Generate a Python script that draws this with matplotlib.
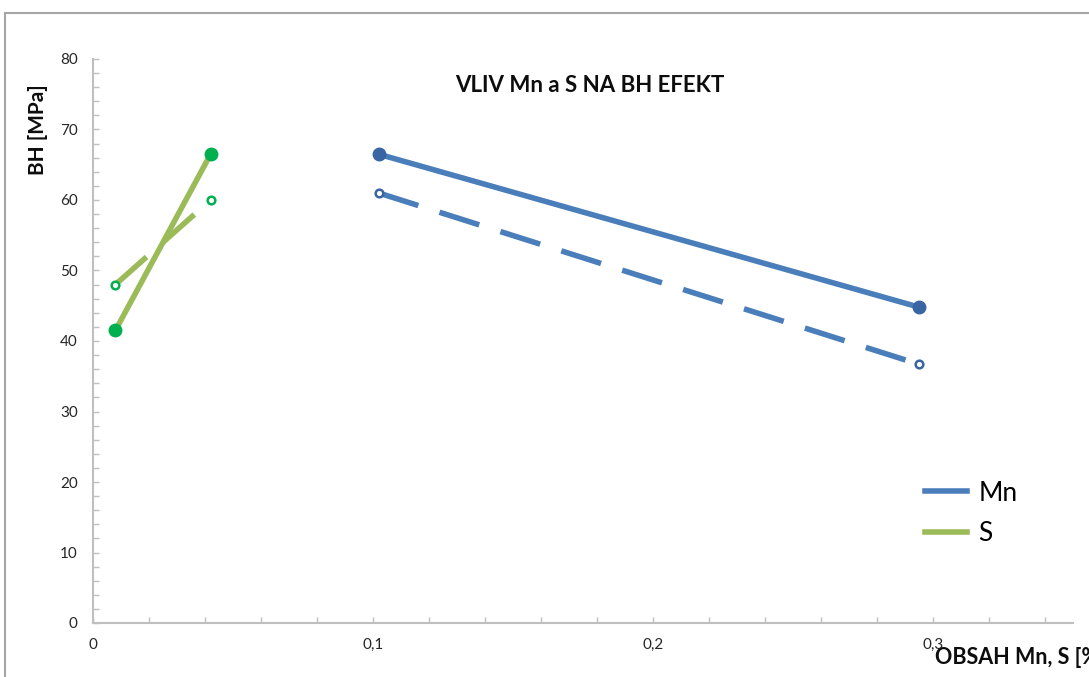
import matplotlib
matplotlib.use("Agg")
import matplotlib.pyplot as plt
from matplotlib.lines import Line2D
from matplotlib.ticker import MultipleLocator, FuncFormatter

plt.rcParams['font.family'] = ['Lato', 'DejaVu Sans']

# Content of Mn and S [%] and the BH effect [MPa]
mn_x = [0.102, 0.295]
mn_solid = [66.5, 44.8]
mn_dashed = [61.0, 36.7]

s_x = [0.008, 0.042]
s_solid = [41.5, 66.5]
s_dashed = [48.0, 60.0]

series_names = ["Mn", "S"]
title = "VLIV Mn a S NA BH EFEKT"
xlabel = "OBSAH Mn, S [%"
ylabel = "BH [MPa]"

MN_LINE = "#4A7EBB"
MN_MARK = "#3A65A3"
S_LINE = "#9BBB59"
S_MARK = "#00B050"

fig = plt.figure(figsize=(10.89, 6.77), dpi=100)
ax = fig.add_axes([93 / 1089, 1 - 623 / 677, 980 / 1089, 564 / 677])

lw = 4.0
dash = (7.5, 4)

# Solid lines with filled markers
ax.plot(mn_x, mn_solid, color=MN_LINE, lw=lw, solid_capstyle='butt', zorder=3)
ax.plot(mn_x, mn_solid, 'o', color=MN_MARK, ms=9, zorder=4)
ax.plot(s_x, s_solid, color=S_LINE, lw=lw, solid_capstyle='butt', zorder=3)
ax.plot(s_x, s_solid, 'o', color=S_MARK, ms=9, zorder=4)

# Dashed lines with hollow markers
ax.plot(mn_x, mn_dashed, color=MN_LINE, lw=lw, dashes=dash, dash_capstyle='butt', zorder=3)
ax.plot(mn_x, mn_dashed, 'o', mfc='white', mec=MN_MARK, mew=1.8, ms=5.5, zorder=4)
ax.plot(s_x, s_dashed, color=S_LINE, lw=lw, dashes=dash, dash_capstyle='butt', zorder=3)
ax.plot(s_x, s_dashed, 'o', mfc='white', mec=S_MARK, mew=1.8, ms=5.5, zorder=4)

ax.set_xlim(0, 0.35)
ax.set_ylim(0, 80)

ax.xaxis.set_major_locator(MultipleLocator(0.1))
ax.xaxis.set_minor_locator(MultipleLocator(0.02))
ax.yaxis.set_major_locator(MultipleLocator(10))
ax.yaxis.set_minor_locator(MultipleLocator(2))
ax.xaxis.set_major_formatter(FuncFormatter(lambda v, p: ("%g" % round(v, 2)).replace('.', ',')))

for side in ('top', 'right'):
    ax.spines[side].set_visible(False)
for side in ('left', 'bottom'):
    ax.spines[side].set_color('#BFBFBF')
    ax.spines[side].set_linewidth(1.5)

ax.tick_params(which='both', direction='in', length=4, width=1, color='#BFBFBF')
ax.tick_params(axis='x', which='major', labelsize=11, labelcolor='#262626', pad=11)
ax.tick_params(axis='y', which='major', labelsize=11, labelcolor='#262626', pad=11)

fig.text(590 / 1089, 1 - 85 / 677, title, ha='center', va='center',
         fontsize=16, fontweight='bold', color='#0D0D0D')
fig.text(935 / 1089, 1 - 658 / 677, xlabel, ha='left', va='center',
         fontsize=15.5, fontweight='bold', color='#0D0D0D')
fig.text(38 / 1089, 1 - 130 / 677, ylabel, ha='center', va='center', rotation=90,
         fontsize=15, fontweight='bold', color='#0D0D0D')

handles = [Line2D([], [], color=MN_LINE, lw=lw),
           Line2D([], [], color=S_LINE, lw=lw)]
ax.legend(handles, series_names, loc='upper left',
          bbox_to_anchor=(914 / 1089, 1 - 470 / 677), bbox_transform=fig.transFigure,
          frameon=False, fontsize=19, handlelength=1.6, handletextpad=0.45,
          labelspacing=0.6, borderaxespad=0)

# Outer chart frame
fig.add_artist(Line2D([5 / 1089, 1], [1 - 13 / 677] * 2, color='#A6A6A6', lw=1.5,
                      transform=fig.transFigure))
fig.add_artist(Line2D([5 / 1089] * 2, [0, 1 - 13 / 677], color='#A6A6A6', lw=1.5,
                      transform=fig.transFigure))

fig.savefig("out.png", dpi=100)
